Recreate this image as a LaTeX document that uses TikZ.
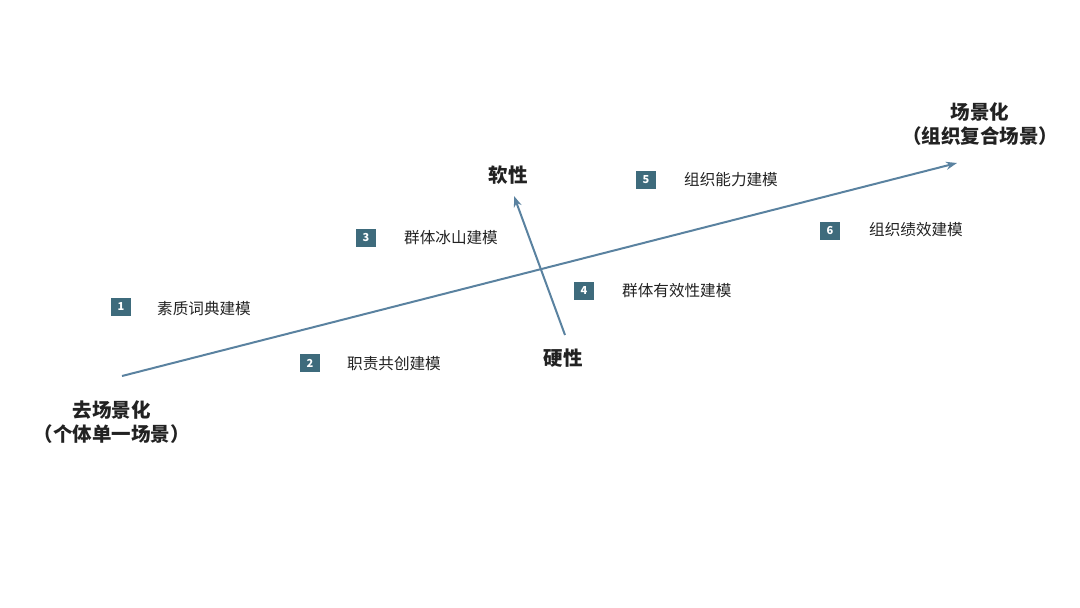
\documentclass[tikz,border=0pt]{standalone}
\usepackage{fontspec}
\setmainfont{Noto Sans CJK SC}
\usetikzlibrary{arrows.meta}
\definecolor{axis}{HTML}{5A82A0}
\definecolor{boxc}{HTML}{3E6B7C}
\definecolor{txt}{HTML}{222222}
\tikzset{
  axisline/.style={draw=axis, line width=2pt, -{Stealth[length=11pt,width=8pt]}},
  numbox/.style={fill=boxc, text=white, minimum width=20pt, minimum height=18pt, inner sep=0pt, font=\fontsize{11}{11}\selectfont\bfseries},
  lbl/.style={anchor=west, inner sep=0pt, text=txt, font=\fontsize{15.6}{16}\selectfont},
  head/.style={inner sep=0pt, text=txt, align=center, font=\fontsize{19.5}{24}\selectfont\bfseries},
}
\begin{document}
\begin{tikzpicture}[x=1pt,y=-1pt]
\useasboundingbox (0,0) rectangle (1080,608);
\coordinate (a1) at (122,376);
\coordinate (a2) at (957,163);
\coordinate (b1) at (565,335);
\coordinate (b2) at (514,196);
\draw[axisline] (a1) -- (a2);
\draw[axisline] (b1) -- (b2);
\node[head] (soft) at (508,175) {软性};
\node[head] (hard) at (563,358) {硬性};
\node[head] (scene) at (980,124) {场景化\\（组织复合场景）};
\node[head] (descene) at (112,422) {去场景化\\（个体单一场景）};
\node[numbox] (n1) at (121,307) {1};
\node[lbl] (t1) at (157,309) {素质词典建模};
\node[numbox] (n2) at (310,363) {2};
\node[lbl] (t2) at (347,364) {职责共创建模};
\node[numbox] (n3) at (366,238) {3};
\node[lbl] (t3) at (404,238) {群体冰山建模};
\node[numbox] (n4) at (584,291) {4};
\node[lbl] (t4) at (622,291) {群体有效性建模};
\node[numbox] (n5) at (646,180) {5};
\node[lbl] (t5) at (684,180) {组织能力建模};
\node[numbox] (n6) at (830,231) {6};
\node[lbl] (t6) at (869,230) {组织绩效建模};
\end{tikzpicture}
\end{document}
